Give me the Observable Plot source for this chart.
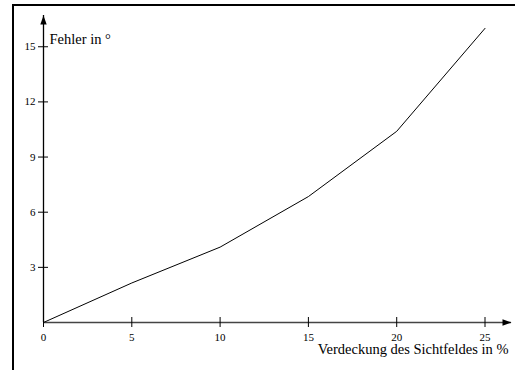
<!DOCTYPE html>
<html><head><meta charset="utf-8">
<script src="https://cdn.jsdelivr.net/npm/d3@7"></script>
<script src="https://cdn.jsdelivr.net/npm/@observablehq/plot@0.6"></script>
<style>
html,body{margin:0;padding:0;background:#fff;}
#wrap{position:relative;width:515px;height:370px;overflow:hidden;}
#border{position:absolute;left:12px;top:4px;width:600px;height:400px;border-top:2.5px solid #000;border-left:2.5px solid #000;}
#chart{position:absolute;left:0;top:0;}
</style>
</head><body>
<div id="wrap"><div id="border"></div><div id="chart"></div></div>
<script>
const coverage = [0, 5, 10, 15, 20, 25];
const errorDeg = [0, 2.15, 4.1, 6.85, 10.4, 16.0];
const xTicks = [0, 5, 10, 15, 20, 25];
const yTicks = [3, 6, 9, 12, 15];
const xLabel = "Verdeckung des Sichtfeldes in %";
const yLabel = "Fehler in °";

const data = coverage.map((c, i) => ({x: c, y: errorDeg[i]}));
const arrowHead = {draw(ctx) { ctx.moveTo(0, 0); ctx.lineTo(-3.2, 9); ctx.lineTo(3.2, 9); ctx.closePath(); }};
const font = "'Liberation Serif', 'DejaVu Serif', serif";

const chart = Plot.plot({
  width: 515, height: 370,
  marginLeft: 43, marginRight: 4, marginTop: 15, marginBottom: 48,
  x: {domain: [0, 26.5], axis: null},
  y: {domain: [0, 16.7], axis: null},
  style: {background: "transparent", overflow: "visible"},
  marks: [
    Plot.ruleY([0], {stroke: "#444", strokeWidth: 1.3}),
    Plot.ruleX([0], {stroke: "#000", strokeWidth: 1.3}),
    Plot.dot([0], {frameAnchor: "bottom-right", symbol: arrowHead, rotate: 90, fill: "#000", stroke: "none"}),
    Plot.dot([0], {frameAnchor: "top-left", symbol: arrowHead, fill: "#000", stroke: "none"}),
    Plot.ruleX(xTicks, {x: d => d, y1: 0, y2: 0, insetTop: -5, insetBottom: -5, stroke: "#000", strokeWidth: 1}),
    Plot.ruleY(yTicks, {y: d => d, x1: 0, x2: 0, insetLeft: -5, insetRight: -5, stroke: "#000", strokeWidth: 1}),
    Plot.text(xTicks, {x: d => d, y: 0, text: d => String(d), dy: 15, fontSize: 11, fill: "#000"}),
    Plot.text(yTicks, {x: 0, y: d => d, text: d => String(d), dx: -8, textAnchor: "end", fontSize: 11, fill: "#000"}),
    Plot.line(data, {x: "x", y: "y", stroke: "#000", strokeWidth: 1}),
    Plot.text([yLabel], {frameAnchor: "top-left", text: d => d, dx: 6, dy: 18, textAnchor: "start", fontSize: 14.5, fill: "#000"}),
    Plot.text([xLabel], {frameAnchor: "bottom-right", text: d => d, dx: -3, dy: 31, textAnchor: "end", fontSize: 14.5, fill: "#000"})
  ]
});
d3.select(chart).style("font-family", font);
d3.select(chart).selectAll("g, text").style("font-family", font);
document.getElementById("chart").appendChild(chart);
</script>
</body></html>
